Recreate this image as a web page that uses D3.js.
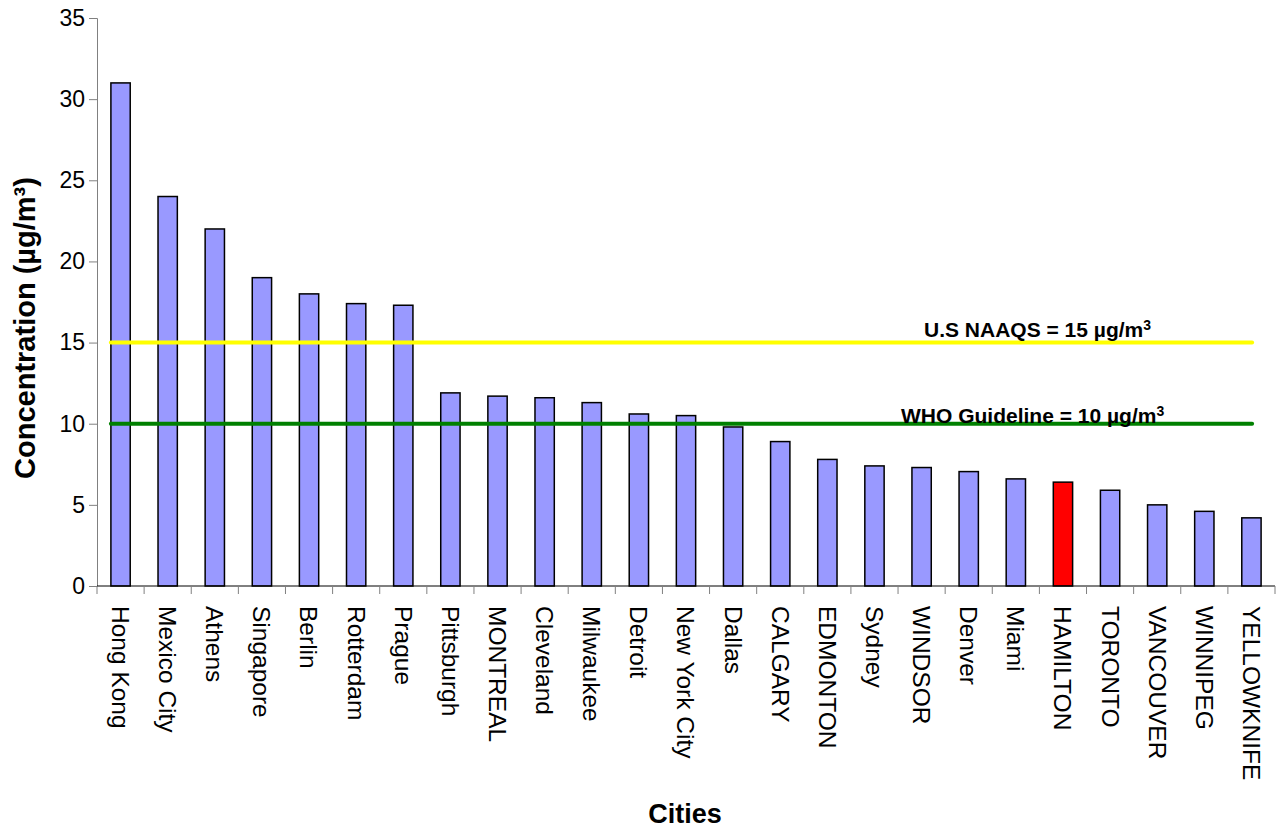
<!DOCTYPE html>
<html>
<head>
<meta charset="utf-8">
<script src="https://cdn.jsdelivr.net/npm/d3@7"></script>
<style>
  body { margin: 0; background: #fff; }
  text { font-family: "Liberation Sans", Arial, sans-serif; }
</style>
</head>
<body>
<div id="chart"></div>
<script>
// Data
var cities = ["Hong Kong", "Mexico City", "Athens", "Singapore", "Berlin", "Rotterdam", "Prague",
  "Pittsburgh", "MONTREAL", "Cleveland", "Milwaukee", "Detroit", "New York City", "Dallas",
  "CALGARY", "EDMONTON", "Sydney", "WINDSOR", "Denver", "Miami", "HAMILTON", "TORONTO",
  "VANCOUVER", "WINNIPEG", "YELLOWKNIFE"];
var values = [31, 24, 22, 19, 18, 17.4, 17.3, 11.9, 11.7, 11.6, 11.3, 10.6, 10.5, 9.8,
  8.9, 7.8, 7.4, 7.3, 7.05, 6.6, 6.4, 5.9, 5.0, 4.6, 4.2];
var highlight = "HAMILTON";
var yTicks = [0, 5, 10, 15, 20, 25, 30, 35];
var guidelines = [
  {label: "U.S NAAQS = 15 µg/m", value: 15, color: "#ffff00", labelX: 924, dy: -6},
  {label: "WHO Guideline = 10 µg/m", value: 10, color: "#008000", labelX: 901, dy: -1}
];

var data = cities.map(function(c, i) { return {city: c, value: values[i]}; });

// Set the dimensions and margins of the graph
var margin = {top: 18, right: 3, bottom: 247, left: 97},
    width = 1278 - margin.left - margin.right,
    height = 833 - margin.top - margin.bottom;

var svg = d3.select("#chart")
  .append("svg")
    .attr("width", 1278)
    .attr("height", 833)
  .append("g")
    .attr("transform", "translate(" + margin.left + "," + margin.top + ")");

// Scales
var x = d3.scaleBand()
  .domain(cities)
  .range([0, width])
  .paddingInner(0.59)
  .paddingOuter(0.295);

var y = d3.scaleLinear()
  .domain([0, 35])
  .range([height, 0]);

// Y axis
var yAxis = svg.append("g")
  .call(d3.axisLeft(y).tickValues(yTicks).tickSize(8).tickPadding(4));
yAxis.select(".domain").attr("stroke", "#808080");
yAxis.selectAll(".tick line").attr("stroke", "#808080");
yAxis.selectAll("text")
  .style("font-size", "23px")
  .attr("fill", "#000");

// Bars
svg.selectAll(".bar")
  .data(data)
  .enter()
  .append("rect")
    .attr("class", "bar")
    .attr("x", function(d) { return x(d.city); })
    .attr("y", function(d) { return y(d.value); })
    .attr("width", x.bandwidth())
    .attr("height", function(d) { return height - y(d.value); })
    .attr("fill", function(d) { return d.city === highlight ? "#ff0000" : "#9999ff"; })
    .attr("stroke", "#000")
    .attr("stroke-width", 1.5);

// X axis: ticks between categories
var xg = svg.append("g")
  .attr("transform", "translate(0," + height + ")");
xg.append("line")
  .attr("x1", 0).attr("x2", width)
  .attr("stroke", "#000");
var step = x.step();
xg.selectAll(".xtick")
  .data(d3.range(cities.length + 1))
  .enter()
  .append("line")
    .attr("x1", function(i) { return i * step; })
    .attr("x2", function(i) { return i * step; })
    .attr("y1", 0).attr("y2", 8)
    .attr("stroke", "#808080");

// X labels rotated
xg.selectAll(".xlabel")
  .data(cities)
  .enter()
  .append("text")
    .attr("transform", function(d) {
      return "translate(" + (x(d) + x.bandwidth() / 2) + ",20) rotate(90)";
    })
    .attr("dy", "0.35em")
    .style("font-size", "24.5px")
    .text(function(d) { return d; });

// Guideline lines
guidelines.forEach(function(g) {
  svg.append("line")
    .attr("x1", x(cities[0]))
    .attr("x2", x(cities[cities.length - 1]) + x.bandwidth() - 9)
    .attr("y1", y(g.value))
    .attr("y2", y(g.value))
    .attr("stroke", g.color)
    .attr("stroke-width", 4)
    .attr("stroke-linecap", "round");

  var t = svg.append("text")
    .attr("x", g.labelX - margin.left)
    .attr("y", y(g.value) + g.dy)
    .style("font-size", "21px")
    .style("font-weight", "bold")
    .text(g.label);
  t.append("tspan")
    .attr("dy", "-0.5em")
    .style("font-size", "14px")
    .text("3");
});

// Axis titles
svg.append("text")
  .attr("transform", "translate(" + (35 - margin.left) + "," + (328 - margin.top) + ") rotate(-90)")
  .attr("text-anchor", "middle")
  .style("font-size", "29px")
  .style("font-weight", "bold")
  .text("Concentration (µg/m³)");

svg.append("text")
  .attr("x", 685 - margin.left)
  .attr("y", 823 - margin.top)
  .attr("text-anchor", "middle")
  .style("font-size", "27px")
  .style("font-weight", "bold")
  .text("Cities");
</script>
</body>
</html>
